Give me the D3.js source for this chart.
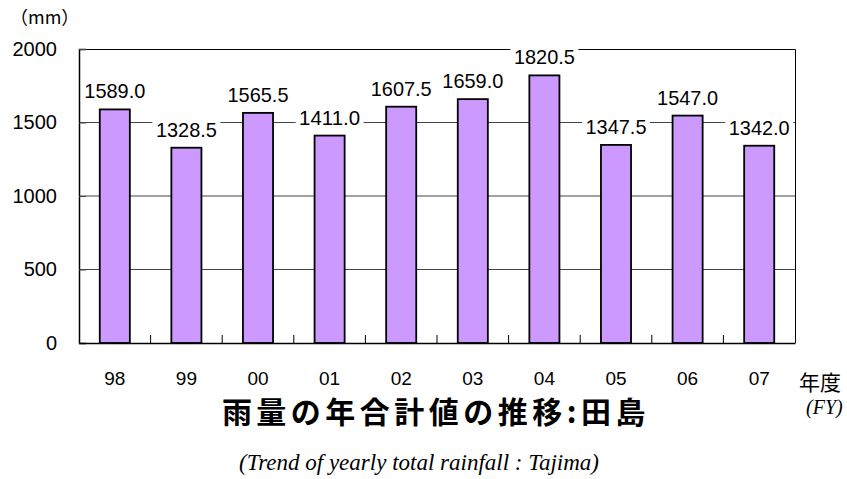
<!DOCTYPE html>
<html>
<head>
<meta charset="utf-8">
<script src="https://cdn.jsdelivr.net/npm/d3@7"></script>
<style>
  body { margin: 0; background: #fff; }
  svg { display: block; }
</style>
</head>
<body>
<svg id="chart" width="847" height="479"></svg>
<script>
// data
var years = ["98", "99", "00", "01", "02", "03", "04", "05", "06", "07"];
var rainfall = [1589.0, 1328.5, 1565.5, 1411.0, 1607.5, 1659.0, 1820.5, 1347.5, 1547.0, 1342.0];
var yTicks = [0, 500, 1000, 1500, 2000];

var margin = {top: 49, right: 52, bottom: 136, left: 79},
    width = 847 - margin.left - margin.right,
    height = 479 - margin.top - margin.bottom;

var svg = d3.select("#chart");
var g = svg.append("g")
    .attr("transform", "translate(" + margin.left + "," + margin.top + ")");

var x = d3.scaleBand().domain(years).range([0, width]).paddingInner(0.58).paddingOuter(0.29);
var band = d3.scaleBand().domain(years).range([0, width]);
var y = d3.scaleLinear().domain([0, 2000]).range([height, 0]);

var numFont = "'Liberation Sans', Arial, sans-serif";

// gridlines
g.selectAll(".grid").data(yTicks.filter(function(d) { return d > 0 && d < 2000; }))
  .enter().append("line")
    .attr("x1", 0).attr("x2", width)
    .attr("y1", function(d) { return y(d); })
    .attr("y2", function(d) { return y(d); })
    .attr("stroke", "#444").attr("stroke-width", 1);

// frame top/right
g.append("path")
    .attr("d", "M0,0.5H" + (width + 0.5) + "V" + height)
    .attr("fill", "none").attr("stroke", "#000").attr("stroke-width", 1);

// bars
g.selectAll("rect.bar").data(rainfall)
  .enter().append("rect")
    .attr("class", "bar")
    .attr("x", function(d, i) { return x(years[i]); })
    .attr("width", x.bandwidth())
    .attr("y", function(d) { return y(d); })
    .attr("height", function(d) { return height - y(d); })
    .attr("fill", "#CC99FF")
    .attr("stroke", "#000").attr("stroke-width", 1.8);

// value labels with white box
var lab = g.selectAll("g.lab").data(rainfall).enter().append("g")
    .attr("transform", function(d, i) {
      return "translate(" + (band(years[i]) + band.bandwidth() / 2) + "," + (y(d) - 11) + ")";
    });
lab.append("rect")
    .attr("x", -34).attr("y", -18).attr("width", 68).attr("height", 22)
    .attr("fill", "#fff");
lab.append("text")
    .attr("text-anchor", "middle")
    .attr("font-family", numFont).attr("font-size", 21)
    .attr("textLength", 61).attr("lengthAdjust", "spacingAndGlyphs")
    .text(function(d) { return d.toFixed(1); });

// y axis
var yAxis = g.append("g").call(d3.axisLeft(y).tickValues(yTicks).tickFormat(d3.format("d")).tickSize(-7).tickPadding(22));
yAxis.select(".domain").attr("stroke", "#000").attr("stroke-width", 1.5);
yAxis.selectAll(".tick line").attr("stroke", "#444");
yAxis.selectAll(".tick text").attr("font-family", numFont).attr("font-size", 20).attr("fill", "#000");

// x axis
var xAxis = g.append("g").attr("transform", "translate(0," + height + ")")
    .call(d3.axisBottom(band).tickSize(0).tickPadding(29));
xAxis.select(".domain").attr("stroke", "#000").attr("stroke-width", 1.5);
xAxis.selectAll(".tick text").attr("font-family", numFont).attr("font-size", 19).attr("fill", "#000");
g.selectAll("line.xt").data(years.slice(1)).enter().append("line")
    .attr("x1", function(d) { return band(d); }).attr("x2", function(d) { return band(d); })
    .attr("y1", height).attr("y2", height - 8)
    .attr("stroke", "#000");

// texts
svg.append("text").attr("x", 10).attr("y", 24)
    .attr("font-family", "'Noto Sans CJK JP', sans-serif").attr("font-size", 18)
    .text("（mm）");
svg.append("text").attr("x", 799).attr("y", 390)
    .attr("font-family", "'Noto Sans CJK JP', sans-serif").attr("font-size", 21)
    .text("年度");
svg.append("text").attr("x", 806).attr("y", 414)
    .attr("font-family", "'Liberation Serif', serif").attr("font-style", "italic").attr("font-size", 20)
    .text("(FY)");
svg.append("text").attr("x", 436).attr("y", 423).attr("text-anchor", "middle")
    .attr("font-family", "'Noto Sans CJK JP', sans-serif").attr("font-weight", "bold").attr("font-size", 30)
    .attr("letter-spacing", 4.5)
    .text("雨量の年合計値の推移:田島");
svg.append("text").attr("x", 419).attr("y", 470).attr("text-anchor", "middle")
    .attr("font-family", "'Liberation Serif', serif").attr("font-style", "italic").attr("font-size", 23)
    .text("(Trend of yearly total rainfall : Tajima)");
</script>
</body>
</html>
